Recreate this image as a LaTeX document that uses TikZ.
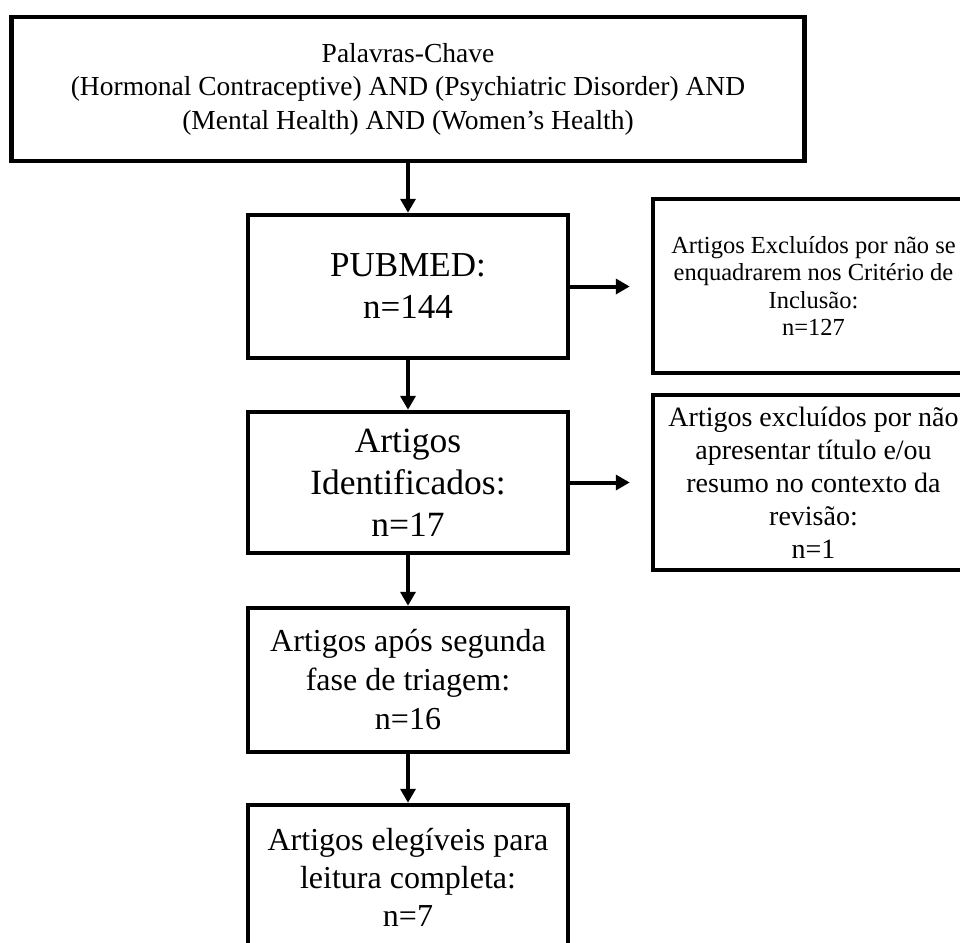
\documentclass[tikz,border=0pt]{standalone}
\usepackage{fontspec}
\setmainfont{Liberation Serif}
\usetikzlibrary{arrows.meta}
\begin{document}
\begin{tikzpicture}[x=1pt,y=-1pt,
  box/.style={draw=black, line width=4.5pt, inner sep=0pt, align=center, fill=white},
  flow/.style={line width=4pt, -{Triangle[length=14pt,width=15pt]}},
  side/.style={flow, shorten >=21pt}
]
\useasboundingbox (0,0) rectangle (960,942);
\clip (0,0) rectangle (960,942);
\fill[white] (0,0) rectangle (960,942);

\node[box, minimum width=793pt, minimum height=144pt,
      font=\fontsize{27.5}{33.5}\selectfont] (top) at (408,89)
  {Palavras-Chave\\(Hormonal Contraceptive) AND (Psychiatric Disorder) AND\\(Mental Health) AND (Women’s Health)};

\node[box, minimum width=320pt, minimum height=143pt,
      font=\fontsize{35}{42}\selectfont] (pub) at (408,286.5)
  {PUBMED:\\n=144};

\node[box, minimum width=320pt, minimum height=141pt,
      font=\fontsize{35.5}{42}\selectfont] (ide) at (408,482.5)
  {Artigos\\Identificados:\\n=17};

\node[box, minimum width=320pt, minimum height=144pt,
      font=\fontsize{32}{39}\selectfont] (tri) at (408,680)
  {Artigos após segunda\\fase de triagem:\\n=16};

\node[box, minimum width=320pt, minimum height=144pt,
      font=\fontsize{32}{38}\selectfont] (ele) at (408,877)
  {Artigos elegíveis para\\leitura completa:\\n=7};

\node[box, minimum width=321pt, minimum height=174pt,
      font=\fontsize{24.5}{27.5}\selectfont] (exa) at (813.5,286)
  {Artigos Excluídos por não se\\enquadrarem nos Critério de\\Inclusão:\\n=127};

\node[box, minimum width=321pt, minimum height=175pt,
      font=\fontsize{28}{33}\selectfont] (exb) at (813.5,482.5)
  {Artigos excluídos por não\\apresentar título e/ou\\resumo no contexto da\\revisão:\\n=1};

\draw[flow] (top.south) -- (pub.north);
\draw[flow] (pub.south) -- (ide.north);
\draw[flow] (ide.south) -- (tri.north);
\draw[flow] (tri.south) -- (ele.north);
\draw[side] (pub.east) -- (pub.east -| exa.west);
\draw[side] (ide.east) -- (ide.east -| exb.west);
\end{tikzpicture}
\end{document}
